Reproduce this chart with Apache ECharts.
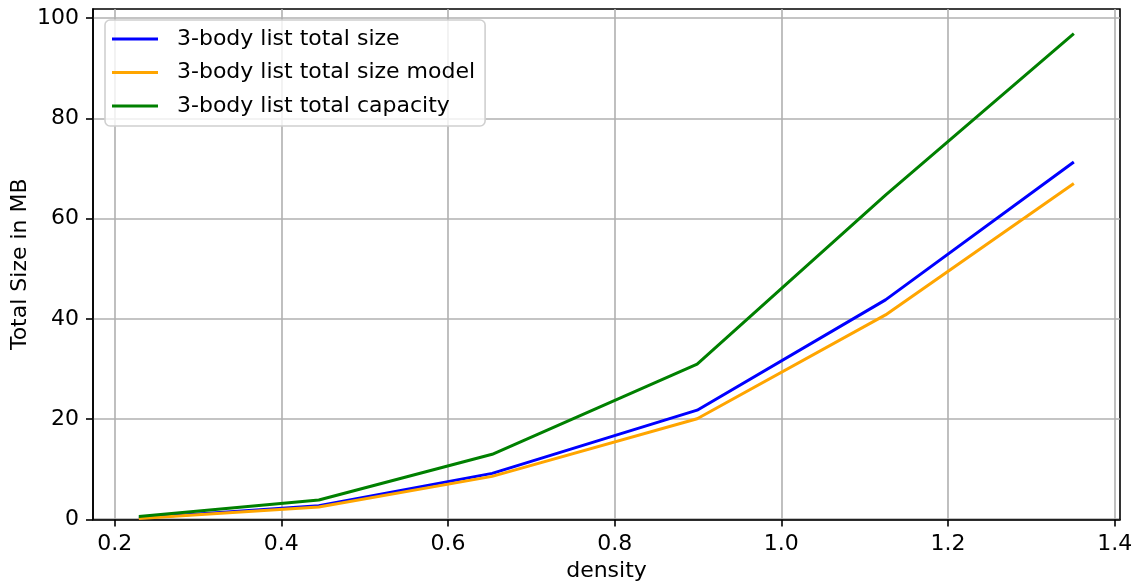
<!DOCTYPE html>
<html>
<head>
<meta charset="utf-8">
<script src="https://cdn.jsdelivr.net/npm/echarts@6/dist/echarts.min.js"></script>
<style>html,body{margin:0;padding:0;background:#fff}#c{width:1141px;height:584px}</style>
</head>
<body>
<div id="c"></div>
<script>
const density = [0.229, 0.445, 0.653, 0.899, 1.125, 1.351];
const totalSize = [0.3, 2.75, 9.2, 21.8, 43.8, 71.3];
const totalSizeModel = [0.2, 2.5, 8.6, 20.1, 40.8, 67.0];
const totalCapacity = [0.6, 3.9, 13.0, 31.0, 64.7, 96.9];
const xTicks = [0.2, 0.4, 0.6, 0.8, 1.0, 1.2, 1.4];
const yTicks = [0, 20, 40, 60, 80, 100];
const seriesNames = ['3-body list total size', '3-body list total size model', '3-body list total capacity'];
const seriesColors = ['#0000ff', '#ffa500', '#008000'];
const seriesValues = [totalSize, totalSizeModel, totalCapacity];

const FONT = 'DejaVu Sans';
const FS = 22;
const chart = echarts.init(document.getElementById('c'), null, {renderer: 'canvas'});
const axisCommon = {
  axisLine: {show: true, onZero: false, lineStyle: {color: '#000', width: 1.6}},
  axisTick: {show: true, inside: false, length: 7, lineStyle: {color: '#000', width: 1.6}},
  splitLine: {show: true, lineStyle: {color: '#b0b0b0', width: 1.6}},
  nameTextStyle: {fontFamily: FONT, fontSize: FS, color: '#000'},
  nameLocation: 'middle',
  nameMoveOverlap: false
};
chart.setOption({
  animation: false,
  backgroundColor: '#fff',
  grid: {left: 93, right: 21, top: 9, bottom: 64.5, show: true, borderColor: '#000', borderWidth: 1.6,
    containLabel: false, outerBoundsMode: 'none'},
  legend: {
    orient: 'vertical', left: 105, top: 20,
    icon: 'rect', itemWidth: 46, itemHeight: 3, itemGap: 11.5,
    padding: [8, 10, 9, 7],
    backgroundColor: 'rgba(255,255,255,0.8)',
    borderColor: '#d0d0d0', borderWidth: 1.6, borderRadius: 5,
    textStyle: {fontFamily: FONT, fontSize: FS, color: '#000', padding: [0, 0, 0, 14]},
    data: seriesNames
  },
  xAxis: Object.assign({}, axisCommon, {
    type: 'value', min: 0.174, max: 1.4064, name: 'density', nameGap: 41,
    axisTick: Object.assign({}, axisCommon.axisTick, {customValues: xTicks}),
    splitLine: Object.assign({}, axisCommon.splitLine, {customValues: xTicks}),
    axisLabel: {customValues: xTicks, fontFamily: FONT, fontSize: FS, color: '#000', margin: 14,
      formatter: v => v.toFixed(1)}
  }),
  yAxis: Object.assign({}, axisCommon, {
    type: 'value', min: 0, max: 101.8, name: 'Total Size in MB', nameGap: 62,
    axisTick: Object.assign({}, axisCommon.axisTick, {customValues: yTicks}),
    splitLine: Object.assign({}, axisCommon.splitLine, {customValues: yTicks}),
    axisLabel: {customValues: yTicks, fontFamily: FONT, fontSize: FS, color: '#000', margin: 14,
      formatter: v => String(Math.round(v))}
  }),
  series: seriesNames.map((n, i) => ({
    name: n, type: 'line', symbol: 'none', showSymbol: false,
    color: seriesColors[i],
    lineStyle: {color: seriesColors[i], width: 3},
    data: density.map((d, j) => [d, seriesValues[i][j]]),
    z: 2 + i
  }))
});
</script>
</body>
</html>
